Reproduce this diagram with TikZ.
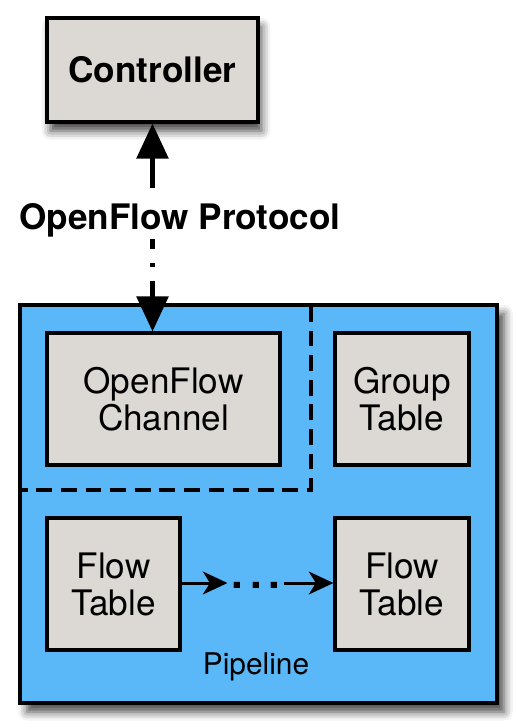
\documentclass[tikz,border=0pt]{standalone}
\usepackage{fontspec}
\setmainfont{TeX Gyre Heros}
\usetikzlibrary{arrows.meta,shadows.blur}

\definecolor{boxgrey}{HTML}{DCD8D4}
\definecolor{pipeblue}{HTML}{5BB8F8}

\begin{document}
\begin{tikzpicture}[x=0.02cm, y=-0.02cm,
    unit/.style={draw, line width=1.8pt, fill=boxgrey, inner sep=0pt,
      align=center, font=\fontsize{20}{21}\selectfont},
    flowarrow/.style={line width=1.7pt, -{Stealth[length=14pt, width=13pt, inset=4pt]}}]
      \useasboundingbox (0, 0) rectangle (518, 728);

      % Controller
      \node[unit, minimum width=4.22cm, minimum height=2.08cm,
        font=\fontsize{20}{24}\selectfont\bfseries,
        blur shadow={shadow xshift=2pt, shadow yshift=-5pt, shadow blur radius=5pt, shadow opacity=75}]
        (ctrl) at (152.5, 70) {Controller};

      % Switch
      \node[draw, line width=2.2pt, fill=pipeblue, minimum width=9.54cm, minimum height=7.96cm,
        blur shadow={shadow xshift=4pt, shadow yshift=-5pt, shadow blur radius=5pt, shadow opacity=75}]
        (switch) at (258.5, 504) {};
      \draw[line width=1.8pt, dash pattern=on 9pt off 5pt] (311, 306) -- (311, 490) -- (22, 490);

      % Row 1
      \node[unit, minimum width=4.66cm, minimum height=2.64cm] (chan) at (163.5, 399) {OpenFlow\\Channel};
      \node[unit, minimum width=2.68cm, minimum height=2.64cm] (group) at (402, 399) {Group\\Table};
      % Row 2
      \node[unit, minimum width=2.66cm, minimum height=2.64cm] (flowa) at (113.5, 584) {Flow\\Table};
      \node[unit, minimum width=2.68cm, minimum height=2.64cm] (flowb) at (402, 584) {Flow\\Table};
      \node[inner sep=2pt, font=\fontsize{24}{24}\selectfont\bfseries]
        (dots) at (256, 583) {\raisebox{-0.5ex}{.\hspace{4pt}.\hspace{4pt}.}};
      \draw[flowarrow] (flowa.east |- dots) -- (dots.west);
      \draw[flowarrow] (dots.east) -- (flowb.west |- dots);
      \node[font=\fontsize{17}{19}\selectfont] (pipe) at (256, 667) {Pipeline};

      % Protocol
      \draw[line width=2.3pt, dash pattern=on 17pt off 8pt on 2pt off 8pt,
        {Triangle[length=20pt, width=18pt]}-{Triangle[length=20pt, width=18pt]}]
        (ctrl.south) -- (ctrl.south |- chan.north);
      \node[fill=white, inner sep=1pt, font=\fontsize{20}{22}\selectfont\bfseries]
        (proto) at (180, 220) {OpenFlow Protocol};
    \end{tikzpicture}
\end{document}
